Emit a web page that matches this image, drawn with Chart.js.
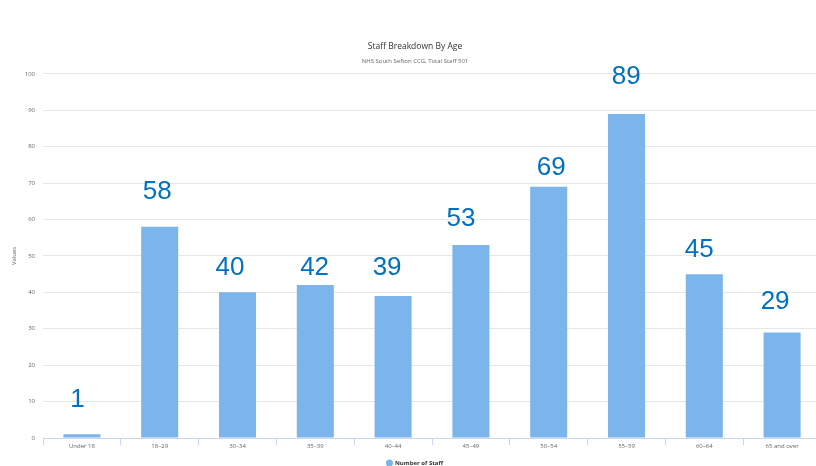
<!DOCTYPE html>
<html>
<head>
<meta charset="utf-8">
<script src="https://cdn.jsdelivr.net/npm/chart.js@4.4.1/dist/chart.umd.min.js"></script>
<style>
  html, body { margin: 0; padding: 0; background: #ffffff; overflow: hidden; }
  #wrap { position: relative; width: 830px; height: 476px; }
</style>
</head>
<body>
<div id="wrap"><canvas id="c"></canvas></div>
<script>
// Age bands and headcount per band
const ageBands = ['Under 18', '18–29', '30–34', '35–39', '40–44', '45–49', '50–54', '55–59', '60–64', '65 and over'];
const staffCounts = [1, 58, 40, 42, 39, 53, 69, 89, 45, 29];
const yTicks = [0, 10, 20, 30, 40, 50, 60, 70, 80, 90, 100];

const chartTitle = 'Staff Breakdown By Age';
const chartSubtitle = 'NHS South Sefton CCG, Total Staff 501';
const seriesName = 'Number of Staff';

// Large value figures printed above each bar; each figure keeps its own
// small nudge (px sideways, px of lift above the bar top).
const valueLabels = {
  id: 'valueLabels',
  afterDatasetsDraw(chart, args, opts) {
    const ctx = chart.ctx;
    const meta = chart.getDatasetMeta(0);
    const values = chart.data.datasets[0].data;
    ctx.save();
    ctx.font = opts.font;
    ctx.fillStyle = opts.color;
    ctx.textAlign = 'center';
    ctx.textBaseline = 'alphabetic';
    meta.data.forEach((bar, i) => {
      const dx = opts.shiftX[i] || 0;
      const lift = opts.lift[i] != null ? opts.lift[i] : 20;
      ctx.fillText(String(values[i]), bar.x + dx, bar.y - lift);
    });
    ctx.restore();
  }
};

const baseFont = '"Open Sans", "DejaVu Sans", sans-serif';

new Chart(document.getElementById('c'), {
  type: 'bar',
  data: {
    labels: ageBands,
    datasets: [{
      label: seriesName,
      data: staffCounts,
      backgroundColor: '#7cb5ec',
      borderWidth: 0,
      categoryPercentage: 1,
      barPercentage: 0.476
    }]
  },
  options: {
    responsive: true,
    maintainAspectRatio: false,
    animation: false,
    layout: { padding: { top: 41, left: 0, right: 0, bottom: 0 } },
    plugins: {
      valueLabels: {
        font: '26px "Liberation Sans", Arial, sans-serif',
        color: '#0070C0',
        shiftX: [-4.5, -2.5, -7.5, -0.7, -6, -10, 2.5, -0.3, -5, -7],
        lift: [27, 27.5, 17, 10, 21, 19, 12, 30, 17, 23]
      },
      title: {
        display: true,
        text: chartTitle,
        color: '#333333',
        font: { family: baseFont, size: 8.5, weight: 'normal' },
        padding: { top: 0.5, bottom: 5.6 }
      },
      subtitle: {
        display: true,
        text: chartSubtitle,
        color: '#666666',
        font: { family: baseFont, size: 6, weight: 'normal' },
        padding: { top: 0, bottom: 9.4 }
      },
      legend: {
        display: true,
        position: 'bottom',
        labels: {
          usePointStyle: true,
          pointStyle: 'circle',
          boxWidth: 5,
          boxHeight: 5,
          color: '#333333',
          font: { family: baseFont, size: 6, weight: 'bold' },
          padding: 8
        }
      },
      tooltip: { enabled: false }
    },
    scales: {
      x: {
        grid: {
          display: true,
          offset: true,
          drawOnChartArea: false,
          drawTicks: true,
          tickLength: 7,
          color: '#ccd6eb'
        },
        border: { display: true, color: '#ccd6eb' },
        ticks: {
          color: '#666666',
          font: { family: baseFont, size: 6 },
          padding: -2,
          maxRotation: 0,
          autoSkip: false
        },
        afterFit(scale) { scale.height = 14; }
      },
      y: {
        min: 0,
        max: 100,
        afterBuildTicks(scale) { scale.ticks = yTicks.map(v => ({ value: v })); },
        grid: { color: '#e6e6e6', drawTicks: false },
        border: { display: false },
        ticks: {
          color: '#666666',
          font: { family: baseFont, size: 6 },
          padding: 8
        },
        title: {
          display: true,
          text: 'Values',
          color: '#666666',
          font: { family: baseFont, size: 6 },
          padding: { top: 11, bottom: 4 }
        },
        afterFit(scale) { scale.width = 43; }
      },
      // empty right-hand margin so the plot ends short of the canvas edge
      yMargin: {
        type: 'linear',
        position: 'right',
        display: true,
        grid: { display: false },
        border: { display: false },
        ticks: { display: false },
        afterFit(scale) { scale.width = 9; }
      }
    }
  },
  plugins: [valueLabels]
});
</script>
</body>
</html>
